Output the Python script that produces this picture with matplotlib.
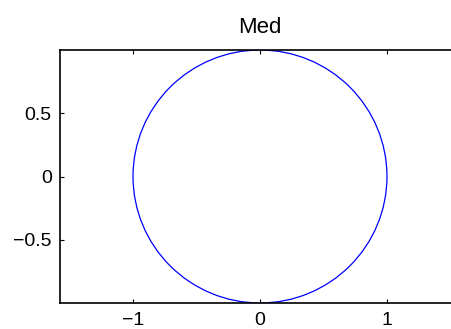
import matplotlib
matplotlib.use("Agg")
import matplotlib.pyplot as plt
from matplotlib.patches import Circle

# circle drawn in the plot
center = (0.0, 0.0)
radius = 1.0

xlim = (-1.575, 1.575)
ylim = (-1.0, 1.0)
xticks = [-1, 0, 1]
yticks = [-0.5, 0, 0.5]
title = "Med"

plt.rcParams['font.family'] = ['Liberation Sans', 'DejaVu Sans']
plt.rcParams['axes.unicode_minus'] = True

fig = plt.figure(figsize=(4.52, 3.29), dpi=100)
ax = fig.add_axes([60 / 452, 26 / 329, 400 / 452, 253 / 329])

ax.add_patch(Circle(center, radius, fill=False, edgecolor='#0000ff', linewidth=0.9))
ax.set_xlim(*xlim)
ax.set_ylim(*ylim)
ax.set_xticks(xticks)
ax.set_yticks(yticks)
ax.set_xticklabels(['\u22121', '0', '1'])
ax.set_yticklabels(['\u22120.5', '0', '0.5'])
ax.tick_params(direction='in', length=3, width=0.8, labelsize=14, top=True, right=True)
ax.tick_params(axis='x', pad=6.5)
ax.tick_params(axis='y', pad=6)
for s in ax.spines.values():
    s.set_linewidth(1.2)
ax.set_title(title, fontsize=16, pad=12)

fig.savefig("out.png", dpi=100)
